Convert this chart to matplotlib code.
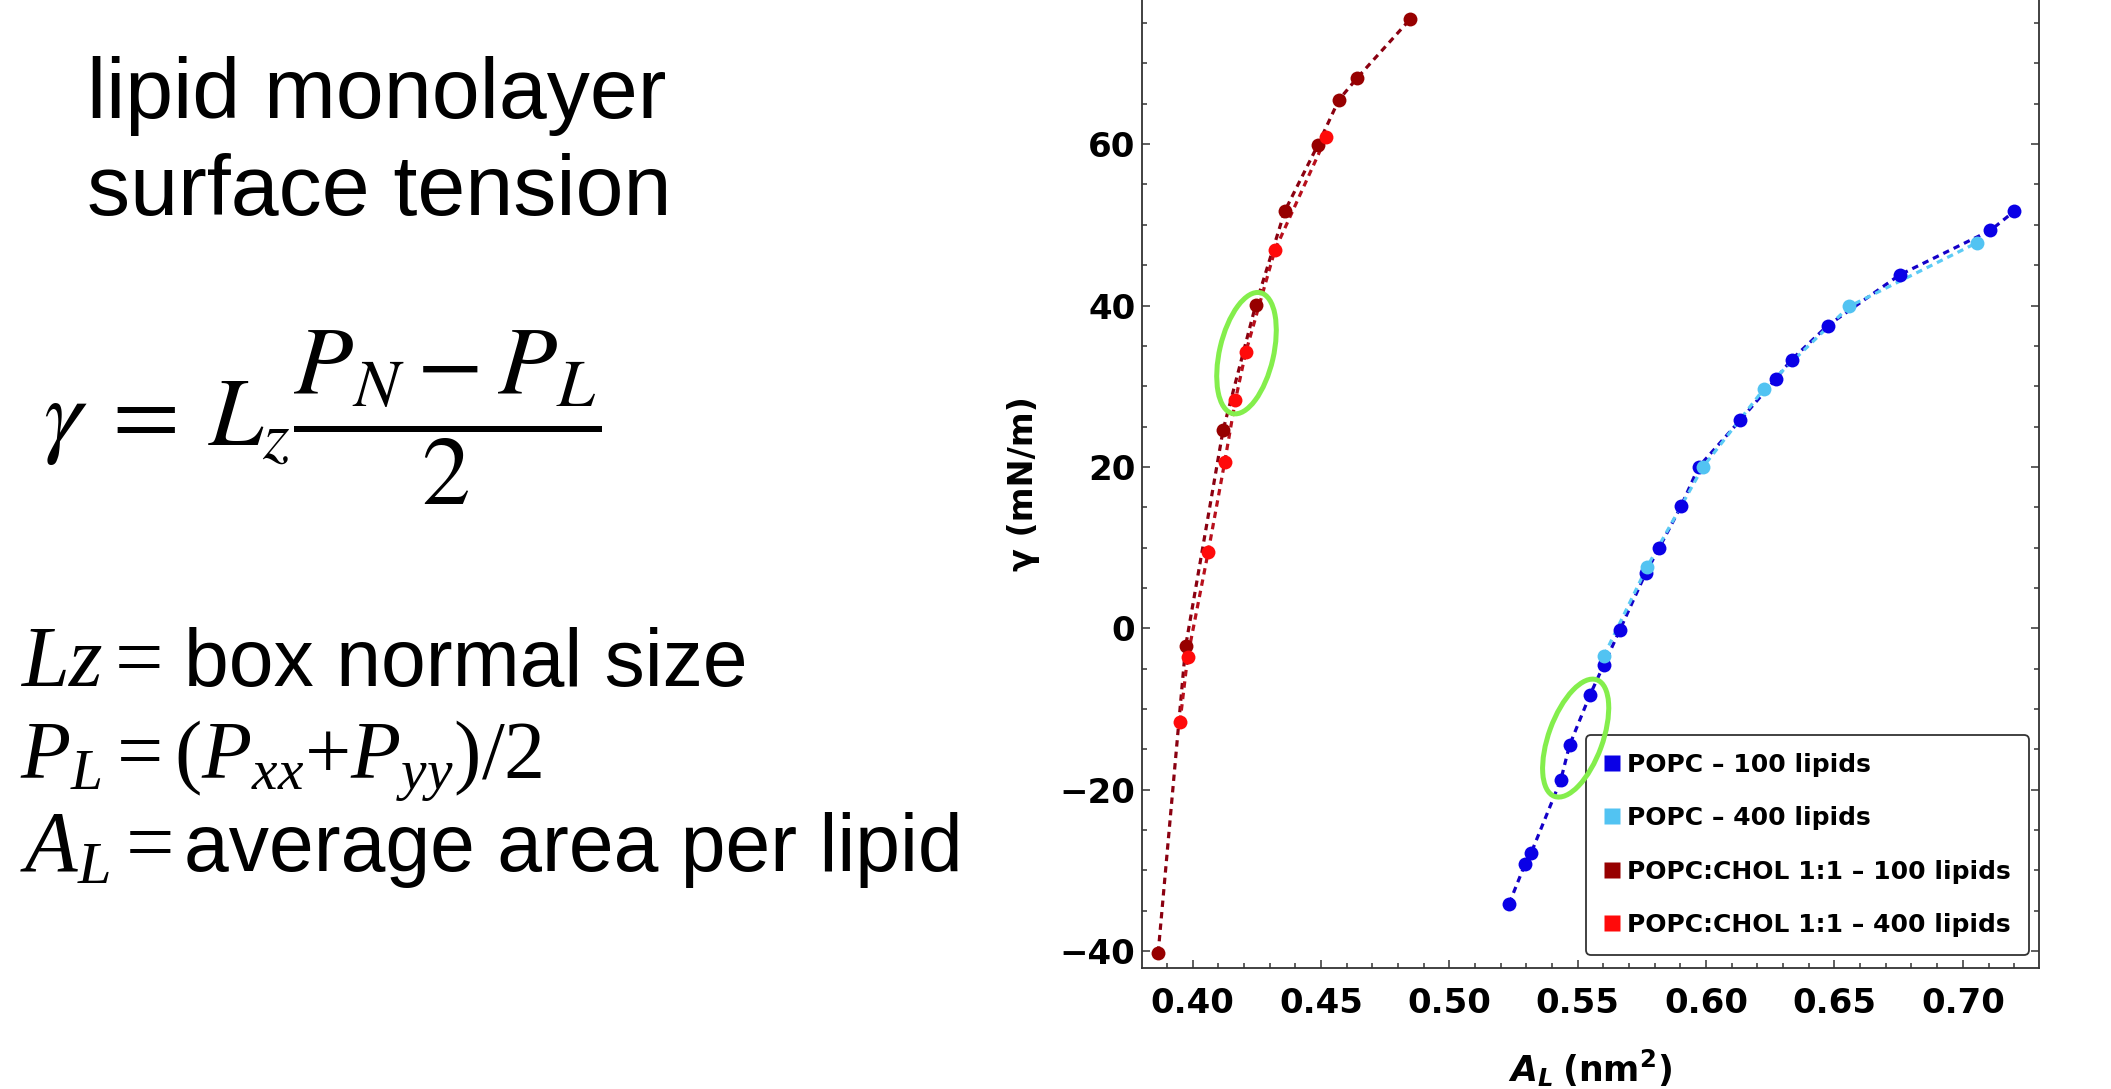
import matplotlib.pyplot as plt
from matplotlib.lines import Line2D
from matplotlib.patches import Ellipse
from matplotlib.transforms import ScaledTranslation
from matplotlib.ticker import MultipleLocator, FormatStrFormatter

plt.rcParams['font.family'] = 'DejaVu Sans'
plt.rcParams['mathtext.rm'] = 'Liberation Serif'
plt.rcParams['mathtext.it'] = 'Liberation Serif:italic'
plt.rcParams['mathtext.sf'] = 'Liberation Sans'
plt.rcParams['mathtext.bf'] = 'DejaVu Sans:bold'
plt.rcParams['mathtext.bfit'] = 'DejaVu Sans:italic:bold'

# POPC - 100 lipids
popc100_area = [0.5233, 0.5295, 0.5319, 0.5434, 0.5468, 0.5547, 0.5602, 0.5664,
                0.5764, 0.5816, 0.5902, 0.5971, 0.6133, 0.6271, 0.6333, 0.6473,
                0.6754, 0.7107, 0.7201]
popc100_gamma = [-34.1, -29.2, -27.8, -18.8, -14.5, -8.3, -4.5, -0.2,
                 6.8, 9.9, 15.1, 20.0, 25.8, 30.9, 33.3, 37.5,
                 43.8, 49.3, 51.7]

# POPC - 400 lipids
popc400_area = [0.5602, 0.5770, 0.5988, 0.6226, 0.6558, 0.7056]
popc400_gamma = [-3.4, 7.6, 20.0, 29.7, 39.9, 47.8]

# POPC:CHOL 1:1 - 100 lipids
chol100_area = [0.3866, 0.3973, 0.4119, 0.4246, 0.4359, 0.4488, 0.4570, 0.4641, 0.4848]
chol100_gamma = [-40.2, -2.2, 24.6, 40.1, 51.7, 59.9, 65.5, 68.2, 75.5]

# POPC:CHOL 1:1 - 400 lipids
chol400_area = [0.3951, 0.3981, 0.4061, 0.4125, 0.4167, 0.4207, 0.4321, 0.4521]
chol400_gamma = [-11.6, -3.5, 9.5, 20.6, 28.3, 34.2, 46.9, 60.9]

labels = ['POPC \u2013 100 lipids', 'POPC \u2013 400 lipids',
          'POPC:CHOL 1:1 \u2013 100 lipids', 'POPC:CHOL 1:1 \u2013 400 lipids']
point_colors = ['#0a00e6', '#52c3f2', '#970000', '#ff0a0a']
line_colors = ['#1400c8', '#5ccbf5', '#8a0010', '#b8101c']

# green circles drawn on the slide (centre in data units)
circle_centers = [(0.4210, 34.1), (0.5492, -13.6)]
circle_angles = [-13, -20]

fig = plt.figure(figsize=(21.11, 10.89), dpi=100)
ax = fig.add_axes([0.5411, 0.1114, 0.4246, 0.8886])

series = [(popc100_area, popc100_gamma), (popc400_area, popc400_gamma),
          (chol100_area, chol100_gamma), (chol400_area, chol400_gamma)]
for i, (a, g) in enumerate(series):
    ax.plot(a, g, color=line_colors[i], lw=2.3, dashes=[2.0, 1.6], zorder=2 + i)
    ax.plot(a, g, 'o', color=point_colors[i], ms=10, mec='none', zorder=6 + i)

for (cx, cy), ang in zip(circle_centers, circle_angles):
    e = Ellipse((0, 0), 0.54, 1.24, angle=ang, fill=False, ec='#84ee4c', lw=3.6,
                transform=fig.dpi_scale_trans + ScaledTranslation(cx, cy, ax.transData),
                zorder=20)
    ax.add_patch(e)

ax.set_xlim(0.3804, 0.7295)
ax.set_ylim(-42.05, 77.86)
ax.xaxis.set_major_locator(MultipleLocator(0.05))
ax.xaxis.set_minor_locator(MultipleLocator(0.01))
ax.xaxis.set_major_formatter(FormatStrFormatter('%.2f'))
ax.yaxis.set_major_locator(MultipleLocator(20))
ax.yaxis.set_minor_locator(MultipleLocator(5))
ax.tick_params(which='both', direction='in', right=True, top=False, color='#333333', width=1.1)
ax.tick_params(which='major', length=6)
ax.tick_params(which='minor', length=3.5)
ax.tick_params(axis='x', which='major', pad=14, labelsize=24.5)
ax.tick_params(axis='y', which='major', pad=5, labelsize=24.5)
for lab in ax.get_xticklabels() + ax.get_yticklabels():
    lab.set_fontweight('bold')
ax.spines['top'].set_visible(False)
for s in ['left', 'right', 'bottom']:
    ax.spines[s].set_color('#333333')
    ax.spines[s].set_linewidth(1.3)

ax.set_ylabel('\u03b3 (mN/m)', fontsize=24, fontweight='bold', labelpad=14)
ax.set_xlabel(r'$\mathbfit{A}_{\mathbfit{L}}\ \mathbf{(nm^{2})}$', fontsize=25,
              math_fontfamily='custom', labelpad=20)

handles = [Line2D([], [], marker='s', ls='none', ms=11, color=c, mec='none')
           for c in point_colors]
leg = ax.legend(handles, labels, loc='lower right', bbox_to_anchor=(0.989, 0.013),
                borderaxespad=0, prop={'weight': 'bold', 'size': 18},
                handlelength=0.6, handletextpad=0.3, labelspacing=1.18,
                borderpad=0.72, fancybox=True, framealpha=1, edgecolor='#333333')
leg.get_frame().set_linewidth(1.3)

# slide text on the left
W, H = 2111, 1089
fig.text(87 / W, 1 - 118 / H, 'lipid monolayer', fontsize=62, va='baseline',
         family='Liberation Sans')
fig.text(87 / W, 1 - 215 / H, 'surface tension', fontsize=62, va='baseline',
         family='Liberation Sans')
fig.text(43 / W, 1 - 418 / H, r'$\gamma\:=\:L_z\dfrac{P_N - P_L}{2}$', fontsize=70,
         math_fontfamily='stix', va='center')
fig.text(20 / W, 1 - 686 / H, r'$Lz =$', fontsize=62,
         math_fontfamily='custom', va='baseline')
fig.text(184 / W, 1 - 686 / H, 'box normal size', fontsize=58, va='baseline',
         family='Liberation Sans')
fig.text(20 / W, 1 - 778 / H, r'$P_L = (P_{xx}{+}P_{yy})/2$', fontsize=59,
         math_fontfamily='custom', va='baseline')
fig.text(20 / W, 1 - 871 / H, r'$A_L =$', fontsize=62,
         math_fontfamily='custom', va='baseline')
fig.text(184 / W, 1 - 871 / H, 'average area per lipid', fontsize=58, va='baseline',
         family='Liberation Sans')

fig.savefig('out.png', dpi=100)
